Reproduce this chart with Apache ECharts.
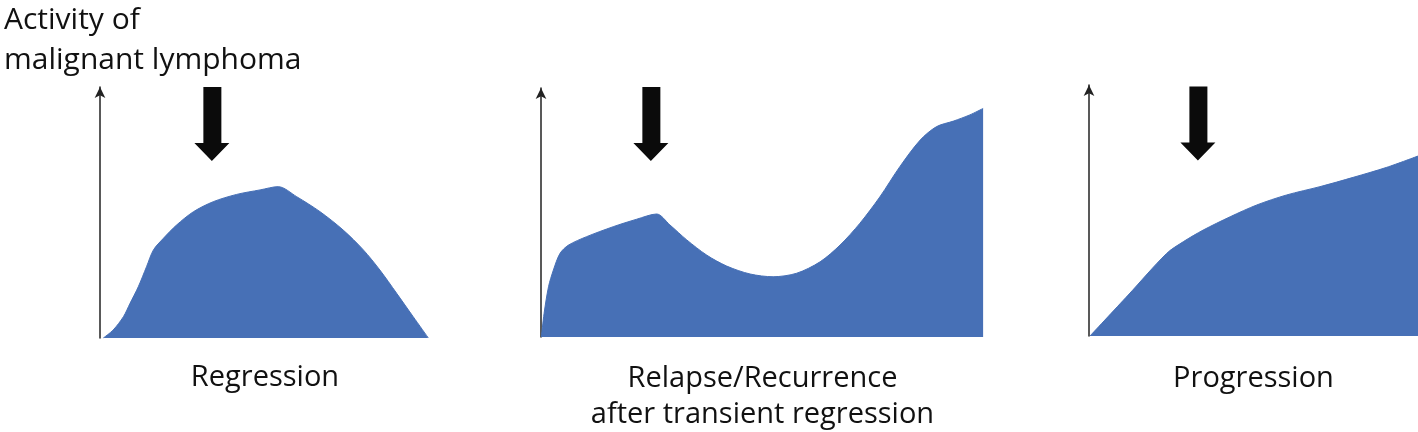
<!DOCTYPE html>
<html><head><meta charset="utf-8">
<script src="https://cdn.jsdelivr.net/npm/echarts@6/dist/echarts.min.js"></script>
<style>html,body{margin:0;padding:0;background:#fff}#c{width:1418px;height:432px}</style>
</head><body><div id="c"></div>
<script>
// Panel titles / axis label
const yAxisTitle = 'Activity of\nmalignant lymphoma';
const panelLabels = ['Regression', 'Relapse/Recurrence\nafter transient regression', 'Progression'];

// Curves: [time, activity] in 0-100 units
const regressionCurve = [[1,0],[4,3.2],[7.1,8.5],[9.1,13.8],[11.6,20.4],[14.1,28.4],[16.2,35.1],[19.2,39.7],[23.2,45],[28.3,50.3],[34.3,54.3],[41.4,57.2],[48.5,59],[54,60.3],[59.6,56.3],[66.7,50.3],[73.7,43],[79.8,35.1],[84.8,27.1],[89.9,17.8],[94.9,8.5],[99.5,0]];
const relapseCurve = [[0.1,0],[0.7,9.5],[1.7,20.2],[2.8,26.9],[4.3,33.6],[6.2,36.9],[10.3,40.3],[16.3,44.3],[21.6,47.3],[26.1,49.4],[29.1,45],[32.9,39],[37.4,32.9],[41.9,28.5],[47.2,25.3],[52.4,24.2],[57.7,25.6],[63,30.2],[67.5,36.9],[72,45.7],[76.5,56.3],[81,68.4],[85.6,79.1],[89.3,84.5],[93.1,86.7],[96.8,89.2],[99.8,91.8]];
const progressionCurve = [[0.3,0],[11.9,16.3],[23.6,32.9],[28.7,37.6],[34.7,42.2],[42.9,47.5],[51,52.2],[60.1,56.2],[70.2,59.5],[80.3,63.2],[90.5,67.2],[100,71.7]];

// Treatment arrows (centre position, in data units)
const treatmentArrows = [[33.9,85.3],[24.8,85.5],[33.1,84.7]];

const curves = [regressionCurve, relapseCurve, progressionCurve];
const grids = [
  {left:100, top:87, width:330, height:251, outerBoundsMode:'none', containLabel:false},
  {left:541, top:88, width:443, height:249, outerBoundsMode:'none', containLabel:false},
  {left:1089, top:85, width:329, height:251, outerBoundsMode:'none', containLabel:false}
];
const nameGaps = [22, 24, 25];
const FONT = 'Open Sans';
const BLUE = '#4770b6';
const arrowPath = 'path://M9,0 L27,0 L27,56 L35,56 L17.5,74 L0,56 L9,56 Z';

const option = {
  animation:false,
  title:{text:yAxisTitle,left:-1,top:-5,textStyle:{fontFamily:FONT,fontSize:30,fontWeight:'normal',color:'#111',lineHeight:40}},
  grid:grids,
  xAxis:grids.map((g,i)=>({type:'value',gridIndex:i,min:0,max:100,
    axisLine:{show:false},axisTick:{show:false},axisLabel:{show:false},splitLine:{show:false},
    name:panelLabels[i],nameLocation:'middle',nameGap:nameGaps[i],
    nameTextStyle:{fontFamily:FONT,fontSize:29,color:'#111',lineHeight:36,verticalAlign:'top'}})),
  yAxis:grids.map((g,i)=>({type:'value',gridIndex:i,min:0,max:100,
    axisLine:{show:true,lineStyle:{color:'#222',width:1.5},symbol:['none','arrow'],symbolSize:[8,11]},
    axisTick:{show:false},axisLabel:{show:false},splitLine:{show:false}})),
  series:curves.map((d,i)=>({type:'line',xAxisIndex:i,yAxisIndex:i,data:d,smooth:0.3,showSymbol:false,
    lineStyle:{color:BLUE,width:1},areaStyle:{color:BLUE,opacity:1},
    markPoint:{symbol:arrowPath,symbolSize:[35,74],symbolKeepAspect:false,silent:true,
      itemStyle:{color:'#0b0b0b'},label:{show:false},
      data:[{coord:treatmentArrows[i]}]}}))
};
echarts.init(document.getElementById('c'),null,{renderer:'canvas'}).setOption(option);
</script></body></html>
